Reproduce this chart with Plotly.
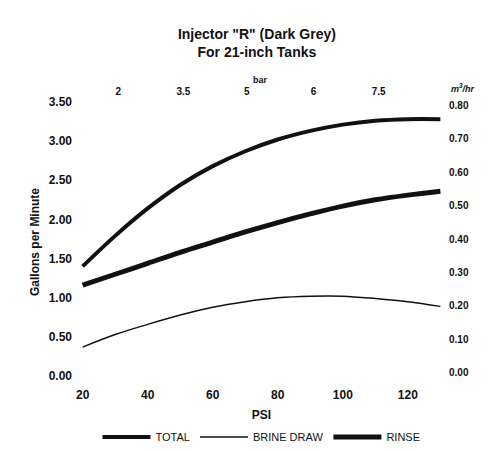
import plotly.graph_objects as go

psi = [20, 30, 40, 50, 60, 70, 80, 90, 100, 110, 120, 130]
total = [1.40, 1.79, 2.14, 2.44, 2.68, 2.87, 3.02, 3.13, 3.21, 3.26, 3.28, 3.28]
rinse = [1.16, 1.30, 1.44, 1.58, 1.71, 1.84, 1.96, 2.07, 2.17, 2.25, 2.31, 2.36]
brine_draw = [0.37, 0.53, 0.66, 0.78, 0.88, 0.95, 1.00, 1.02, 1.02, 0.99, 0.95, 0.89]

psi_ticks = [20, 40, 60, 80, 100, 120]
gpm_ticks = [0, 0.5, 1.0, 1.5, 2.0, 2.5, 3.0, 3.5]
m3h_ticks = [0, 0.1, 0.2, 0.3, 0.4, 0.5, 0.6, 0.7, 0.8]
bar_tick_psi = [31, 51, 70.5, 91, 111]
bar_tick_text = ["2", "3.5", "5", "6", "7.5"]

ink = "#111111"
font = "Liberation Sans"

fig = go.Figure()
fig.add_trace(go.Scatter(x=psi, y=total, name="TOTAL", mode="lines",
                         line=dict(color=ink, width=4, shape="spline")))
fig.add_trace(go.Scatter(x=psi, y=brine_draw, name="BRINE DRAW", mode="lines",
                         line=dict(color=ink, width=1.5, shape="spline")))
fig.add_trace(go.Scatter(x=psi, y=rinse, name="RINSE", mode="lines",
                         line=dict(color=ink, width=5, shape="spline")))
# empty traces so the secondary axes get drawn
fig.add_trace(go.Scatter(x=[20], y=[0], xaxis="x2", mode="markers", opacity=0,
                         showlegend=False, hoverinfo="skip"))
fig.add_trace(go.Scatter(x=[20], y=[0], yaxis="y2", mode="markers", opacity=0,
                         showlegend=False, hoverinfo="skip"))

fig.update_layout(
    width=494, height=450,
    margin=dict(l=81, r=52, t=98, b=70, autoexpand=False),
    paper_bgcolor="white", plot_bgcolor="white",
    font=dict(family=font, color=ink),
    title=dict(text="Injector \"R\" (Dark Grey)<br>For 21-inch Tanks",
               x=0.52, xanchor="center", y=0.913, yanchor="middle",
               font=dict(size=14, weight="bold")),
    xaxis=dict(range=[19.5, 130.5], tickvals=psi_ticks, showgrid=False, zeroline=False,
               showline=False, ticks="", ticklabelstandoff=6, automargin=False,
               tickfont=dict(size=12, weight="bold"),
               title=dict(text="PSI", font=dict(size=12, weight="bold"))),
    xaxis2=dict(range=[19.5, 130.5], overlaying="x", side="top", tickvals=bar_tick_psi,
                ticktext=bar_tick_text, showgrid=False, zeroline=False, showline=False,
                ticks="", ticklabelstandoff=0, automargin=False,
                tickfont=dict(size=10, weight="bold")),
    yaxis=dict(range=[-0.05, 3.55], tickvals=gpm_ticks, tickformat=".2f", showgrid=False,
               zeroline=False, showline=False, ticks="", ticklabelstandoff=8, automargin=False,
               tickfont=dict(size=12, weight="bold")),
    yaxis2=dict(range=[-0.021, 0.821], overlaying="y", side="right", tickvals=m3h_ticks,
                tickformat=".2f", showgrid=False, zeroline=False, showline=False, ticks="",
                ticklabelstandoff=6, automargin=False, tickfont=dict(size=10, weight="bold")),
    legend=dict(orientation="h", x=0.50, xanchor="center", yref="container",
                y=0.029, yanchor="middle", font=dict(size=11), itemwidth=48,
                bgcolor="rgba(0,0,0,0)"),
    showlegend=True,
)

fig.add_annotation(text="Gallons per Minute", textangle=-90, xref="paper", yref="paper",
                   x=-0.127, xanchor="center", y=0.49, yanchor="middle", showarrow=False,
                   font=dict(size=12, weight="bold"))
fig.add_annotation(text="bar", xref="paper", yref="paper", x=0.496, xanchor="center",
                   y=1.087, showarrow=False, font=dict(size=9, weight="bold"))
fig.add_annotation(text="<i>m<sup>3</sup>/hr</i>", xref="paper", yref="paper", x=1.058,
                   xanchor="center", y=1.065, showarrow=False, font=dict(size=9, weight="bold"))

# drop the default 8px body margin so the figure sits at the window corner
fig.write_html("out.html", config={"displayModeBar": False},
               post_script="document.body.style.margin='0';")
